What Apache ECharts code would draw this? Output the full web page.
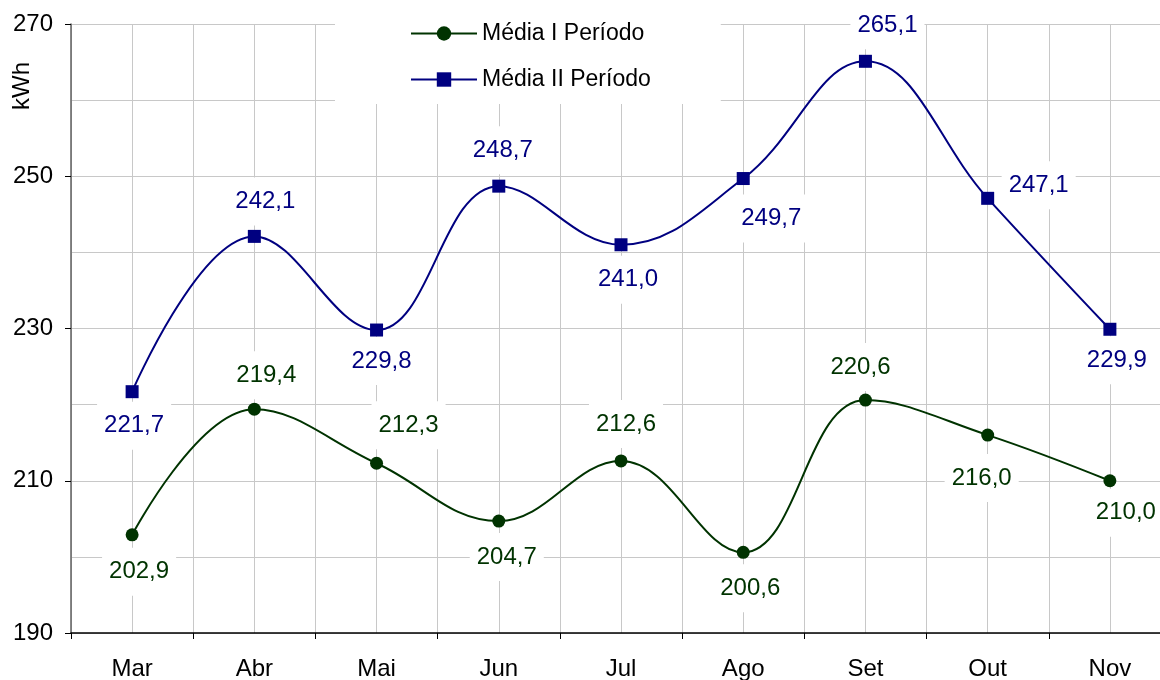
<!DOCTYPE html>
<html>
<head>
<meta charset="utf-8">
<script src="https://cdn.jsdelivr.net/npm/echarts@6/dist/echarts.min.js"></script>
<style>
html, body { margin: 0; padding: 0; background: #fff; overflow: hidden; }
#chart { width: 1171px; height: 680px; }
</style>
</head>
<body>
<div id="chart"></div>
<script>
// dados
var meses = ['Mar', 'Abr', 'Mai', 'Jun', 'Jul', 'Ago', 'Set', 'Out', 'Nov'];
var mediaI = [202.9, 219.4, 212.3, 204.7, 212.6, 200.6, 220.6, 216.0, 210.0];
var mediaII = [221.7, 242.1, 229.8, 248.7, 241.0, 249.7, 265.1, 247.1, 229.9];
var yTicks = [190, 210, 230, 250, 270];

// deslocamento dos rótulos (px, relativo ao ponto)
var offI = [[7, 37], [12, -34], [32, -38], [8, 36], [5, -37], [7, 36], [-5, -33], [-6, 43], [16, 32]];
var offII = [[2, 34], [11, -35], [5, 31], [4, -36], [7, 35], [28, 40], [22, -36], [51, -13], [7, 31]];

var fonte = '"Liberation Sans", Arial, sans-serif';
var verde = '#003300';
var azul = '#000080';
var grade = '#c8c8c8';

function fmt(p) {
    return p.value.toFixed(1).replace('.', ',');
}

function montaDados(vals, offs) {
    return vals.map(function (v, i) {
        return { value: v, label: { offset: offs[i] } };
    });
}

function rotulo(cor) {
    return {
        show: true,
        position: 'inside',
        formatter: fmt,
        color: cor,
        fontSize: 24,
        fontFamily: fonte,
        backgroundColor: '#fff',
        padding: [12, 7]
    };
}

var chart = echarts.init(document.getElementById('chart'));

var option = {
    animation: false,
    backgroundColor: '#fff',
    grid: { left: 71, right: 0, top: 24, bottom: 47, outerBoundsMode: 'none' },
    legend: {
        orient: 'vertical',
        left: 335,
        top: 10,
        padding: [12, 70, 13, 75],
        backgroundColor: '#fff',
        itemGap: 23,
        itemWidth: 66,
        itemHeight: 18,
        textStyle: { fontSize: 23, fontFamily: fonte, color: '#000' },
        data: ['Média I Período', 'Média II Período']
    },
    graphic: [{
        type: 'text',
        x: 22,
        y: 86,
        rotation: Math.PI / 2,
        style: {
            text: 'kWh',
            fontSize: 24,
            fontFamily: fonte,
            fill: '#000',
            align: 'center',
            verticalAlign: 'middle'
        }
    }],
    xAxis: [{
        type: 'category',
        data: meses,
        boundaryGap: true,
        axisLine: { lineStyle: { color: '#000', width: 1.5 } },
        axisTick: { show: true, length: 6, lineStyle: { color: '#000' } },
        axisLabel: { fontSize: 24, fontFamily: fonte, color: '#000', margin: 24 },
        splitLine: { show: false }
    }, {
        type: 'value',
        min: 0,
        max: 9,
        interval: 0.5,
        position: 'top',
        axisLine: { show: false },
        axisTick: { show: false },
        axisLabel: { show: false },
        splitLine: { show: true, lineStyle: { color: grade, width: 1 } }
    }],
    yAxis: {
        type: 'value',
        min: yTicks[0],
        max: yTicks[yTicks.length - 1],
        interval: 20,
        axisLine: { show: true, lineStyle: { color: '#606060', width: 1.5 } },
        axisTick: { show: true, length: 6, lineStyle: { color: '#000' } },
        axisLabel: { fontSize: 24, fontFamily: fonte, color: '#000', margin: 18 },
        splitLine: { show: true, lineStyle: { color: grade, width: 1 } },
        minorTick: { show: false, splitNumber: 2 },
        minorSplitLine: { show: true, lineStyle: { color: grade, width: 1 } }
    },
    series: [{
        name: 'Média I Período',
        type: 'line',
        smooth: 0.4,
        symbol: 'circle',
        symbolSize: 13,
        lineStyle: { color: verde, width: 2 },
        itemStyle: { color: verde },
        label: rotulo(verde),
        data: montaDados(mediaI, offI)
    }, {
        name: 'Média II Período',
        type: 'line',
        smooth: 0.4,
        symbol: 'rect',
        symbolSize: 13,
        lineStyle: { color: azul, width: 2 },
        itemStyle: { color: azul },
        label: rotulo(azul),
        data: montaDados(mediaII, offII)
    }]
};

chart.setOption(option);
</script>
</body>
</html>
